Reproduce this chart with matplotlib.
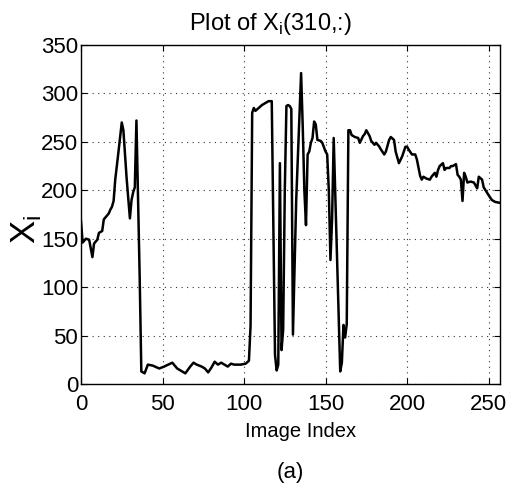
import matplotlib
matplotlib.use('Agg')
import matplotlib.pyplot as plt

plt.rcParams['font.family'] = ['Liberation Sans', 'DejaVu Sans']
plt.rcParams['mathtext.fontset'] = 'custom'
plt.rcParams['mathtext.rm'] = 'Liberation Sans'

# pixel row 310 across the image stack
image_index = [0, 1, 3, 5, 7, 8, 10, 11, 13, 14, 16, 17, 18, 19, 20, 21, 23, 25, 26, 28,
               30, 31, 32, 33, 34, 36, 37, 39, 41, 44, 48, 51, 56, 59, 63, 64, 67, 69, 71,
               74, 76, 78, 80, 82, 84, 86, 88, 90, 92, 94, 98, 101, 103, 104, 105, 106,
               107, 109, 111, 113, 115, 117, 119, 120, 121, 122, 123, 124, 125, 126, 127,
               128, 129, 130, 132, 135, 136, 137, 138, 139, 140, 141, 142, 143, 144, 145,
               147, 148, 150, 151, 152, 153, 154, 155, 159, 160, 161, 162, 163, 164, 165,
               166, 168, 170, 171, 173, 174, 175, 177, 178, 180, 181, 183, 184, 186, 187,
               189, 190, 192, 193, 195, 197, 199, 200, 201, 203, 205, 206, 208, 209, 210,
               212, 214, 215, 217, 218, 219, 220, 222, 223, 224, 226, 227, 228, 230, 231,
               232, 233, 234, 235, 236, 237, 239, 241, 243, 244, 246, 247, 250, 252, 254,
               257]
xi_values = [168, 146, 150, 149, 131, 145, 149, 156, 158, 170, 174, 176, 180, 183, 189, 211,
             240, 270, 262, 212, 171, 190, 198, 203, 272, 110, 13, 11, 20, 19, 16, 18, 22,
             16, 12, 11, 18, 22, 20, 18, 16, 12, 17, 23, 20, 22, 20, 18, 21, 20, 20, 21, 24,
             60, 280, 285, 282, 285, 288, 290, 292, 292, 30, 14, 20, 228, 35, 56, 200, 287,
             288, 287, 284, 51, 190, 321, 266, 200, 164, 237, 240, 249, 254, 271, 268, 252,
             251, 249, 240, 237, 200, 128, 170, 254, 13, 22, 61, 48, 62, 262, 262, 257, 255,
             254, 249, 256, 258, 262, 256, 251, 247, 249, 245, 242, 237, 240, 252, 255, 252,
             240, 228, 235, 245, 245, 242, 237, 237, 232, 215, 211, 214, 212, 211, 214, 218,
             214, 221, 225, 228, 221, 223, 223, 225, 225, 227, 216, 214, 211, 189, 218, 214,
             208, 209, 208, 202, 214, 211, 203, 195, 190, 188, 187]

x_ticks = [0, 50, 100, 150, 200, 250]
y_ticks = [0, 50, 100, 150, 200, 250, 300, 350]

fig = plt.figure(figsize=(5.19, 4.87), dpi=100)
ax = fig.add_axes([81/519, 1 - 384/487, 419/519, 339/487])

ax.plot(image_index, xi_values, color='black', linewidth=1.8)

ax.set_xlim(0, 257)
ax.set_ylim(0, 350)
ax.set_xticks(x_ticks)
ax.set_yticks(y_ticks)
ax.grid(True, linestyle=(0, (1, 4)), color='#333333', linewidth=0.8)
ax.tick_params(direction='in', top=True, right=True, length=4, width=0.8,
               labelsize=16)
ax.tick_params(axis='x', pad=7)
ax.tick_params(axis='y', pad=2)
for s in ax.spines.values():
    s.set_linewidth(1.0)

fig.text(270/519, 1 - 30/487, r'Plot of X$_\mathregular{i}$(310,:)', fontsize=17,
         ha='center', va='baseline')
fig.text(301/519, 1 - 437/487, 'Image Index', fontsize=14.5, ha='center', va='baseline')
fig.text(290/519, 1 - 478/487, '(a)', fontsize=16, ha='center', va='baseline')
fig.text(26/519, 1 - 229/487, r'X$_\mathregular{i}$', fontsize=25, rotation=90,
         ha='center', va='center')

fig.savefig('out.png', dpi=100)
